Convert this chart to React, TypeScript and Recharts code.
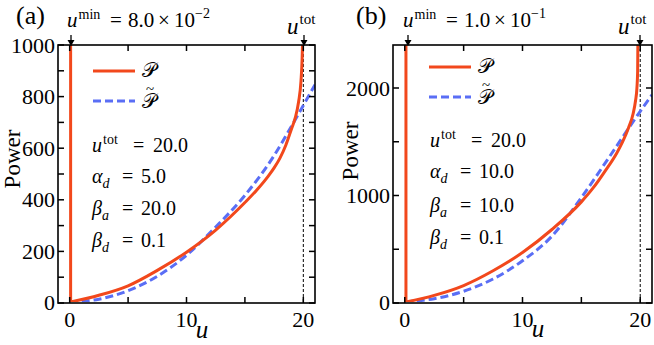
import React from "react";
import { LineChart, Line, XAxis, YAxis, ReferenceLine } from "recharts";

const RED = "#f2481c";
const BLUE = "#5a6ef5";
const SERIF = "'Liberation Serif', 'DejaVu Serif', serif";
const SCRIPT_P = "\u{1D4AB}";

// shared x axis
const xTicks = [0, 5, 10, 15, 20];
const xLabels = [0, 10, 20];
const xDomain = [-1, 21];
const uTot = 20;

// panel (a)
const aUMin = 0.08;
const aRedU = [0.08, 2.5, 5, 7.5, 10, 12.5, 15, 16, 17, 17.5, 18, 18.5, 19, 19.3, 19.6, 19.8, 19.9, 19.93];
const aRedP = [0, 26, 63, 123, 194, 280, 387, 435, 490, 522, 560, 610, 675, 715, 780, 860, 950, 1000];
const aTildeU = [0, 2.5, 5, 7.5, 10, 12.5, 15, 17.5, 19, 20, 21];
const aTildeP = [0, 11, 44, 100, 182, 292, 415, 570, 685, 765, 845];
const aYTicks = [0, 100, 200, 300, 400, 500, 600, 700, 800, 900, 1000];
const aYLabels = [0, 200, 400, 600, 800, 1000];

// panel (b)
const bUMin = 0.1;
const bRedU = [0.1, 2.5, 5, 7.5, 10, 12.5, 15, 16, 17, 18, 18.5, 19, 19.4, 19.6, 19.72, 19.78, 19.8];
const bRedP = [0, 62, 154, 292, 462, 677, 935, 1065, 1220, 1390, 1495, 1625, 1760, 1880, 2000, 2150, 2400];
const bTildeU = [0, 2.5, 5, 7.5, 10, 12.5, 15, 17.5, 19, 20, 21];
const bTildeP = [0, 31, 100, 215, 385, 615, 975, 1375, 1620, 1780, 1935];
const bYTicks = [0, 500, 1000, 1500, 2000];
const bYLabels = [0, 1000, 2000];

const zip = (us: number[], ps: number[]) => us.map((u, i) => ({ u, p: ps[i] }));

// layout of the two plot boxes (page pixels)
const TOP = 45;
const BOTTOM = 303;
const A_BOX = { left: 58, right: 315 };
const B_BOX = { left: 393, right: 652 };

const labelMaker = (side: string, labels: number[]) => (props: any) => {
  const { x, y, payload } = props;
  const v = payload.value;
  if (!labels.includes(v)) return <g />;
  if (side === "bottom")
    return (
      <text x={x} y={y + 25} textAnchor="middle" fontFamily={SERIF} fontSize={22} fill="#000">
        {v}
      </text>
    );
  return (
    <text x={x - 3} y={y + 8} textAnchor="end" fontFamily={SERIF} fontSize={22} fill="#000">
      {v}
    </text>
  );
};

const Panel = ({ width, yAxisWidth, right, yMax, yTicks, yLabels, uMin, red, tilde }: any) => (
  <LineChart width={width} height={345} margin={{ top: TOP, right, bottom: 345 - BOTTOM, left: 0 }}>
    <XAxis
      dataKey="u"
      type="number"
      domain={xDomain}
      ticks={xTicks}
      interval={0}
      allowDataOverflow
      height={1}
      tickSize={0}
      tickMargin={0}
      tickLine={false}
      axisLine={false}
      tick={labelMaker("bottom", xLabels)}
    />
    <YAxis
      type="number"
      domain={[0, yMax]}
      ticks={yTicks}
      interval={0}
      allowDataOverflow
      width={yAxisWidth}
      tickSize={0}
      tickMargin={0}
      tickLine={false}
      axisLine={false}
      tick={labelMaker("left", yLabels)}
    />
    <ReferenceLine x={uTot} stroke="#000" strokeWidth={1} strokeDasharray="3 2" />
    <Line
      data={tilde}
      dataKey="p"
      type="monotone"
      stroke={BLUE}
      strokeWidth={3}
      strokeDasharray="8 4"
      dot={false}
      activeDot={false}
      isAnimationActive={false}
    />
    <Line
      data={[{ u: uMin, p: yMax }, { u: uMin, p: 0 }]}
      dataKey="p"
      type="linear"
      stroke={RED}
      strokeWidth={3}
      dot={false}
      activeDot={false}
      isAnimationActive={false}
    />
    <Line
      data={red}
      dataKey="p"
      type="monotone"
      stroke={RED}
      strokeWidth={3}
      dot={false}
      activeDot={false}
      isAnimationActive={false}
    />
  </LineChart>
);

// box and inward ticks on all four sides
const Frame = ({ left, right, yMax, yTicks }: any) => {
  const sx = (v: number) => left + ((v - xDomain[0]) / (xDomain[1] - xDomain[0])) * (right - left);
  const sy = (v: number) => BOTTOM - (v / yMax) * (BOTTOM - TOP);
  const len = 6;
  const w = 1.5;
  return (
    <g>
      <rect x={left} y={TOP} width={right - left} height={BOTTOM - TOP} fill="none" stroke="#000" strokeWidth={1.6} />
      {xTicks.map((t) => (
        <g key={`x${t}`}>
          <rect x={sx(t) - w / 2} y={BOTTOM - len} width={w} height={len} fill="#000" />
          <rect x={sx(t) - w / 2} y={TOP} width={w} height={len} fill="#000" />
        </g>
      ))}
      {yTicks.map((t: number) => (
        <g key={`y${t}`}>
          <rect x={left} y={sy(t) - w / 2} width={len} height={w} fill="#000" />
          <rect x={right - len} y={sy(t) - w / 2} width={len} height={w} fill="#000" />
        </g>
      ))}
    </g>
  );
};

const Arrow = ({ x }: { x: number }) => (
  <g>
    <line x1={x} y1={35} x2={x} y2={41} stroke="#000" strokeWidth={1.3} />
    <path d={`M${x - 3.5},40 L${x + 3.5},40 L${x},46 Z`} fill="#000" />
  </g>
);

const Annot = ({ x0, px, label, umin, exp, umX, totX, params, ys, legX, legY }: any) => (
  <g fontFamily={SERIF} fill="#000">
    <text x={x0} y={24} fontSize={26}>{label}</text>
    <text y={27} fontSize={21}>
      <tspan x={umX} fontStyle="italic">u</tspan>
      <tspan dx={1} dy={-8} fontSize={14}>min</tspan>
      <tspan x={umX + 43} dy={8}>=</tspan>
      <tspan x={umX + 61}>{umin}</tspan>
      <tspan x={umX + 91}>×</tspan>
      <tspan x={umX + 107}>10</tspan>
      <tspan x={umX + 128} dy={-9} fontSize={14}>{exp}</tspan>
    </text>
    <text y={34} fontSize={23}>
      <tspan x={totX} fontStyle="italic">u</tspan>
      <tspan dx={1} dy={-10} fontSize={15}>tot</tspan>
    </text>
    {/* legend */}
    <line x1={legX} y1={legY} x2={legX + 42} y2={legY} stroke={RED} strokeWidth={3} />
    <text x={legX + 49} y={legY + 6} fontSize={20}>{SCRIPT_P}</text>
    <line x1={legX} y1={legY + 30} x2={legX + 42} y2={legY + 30} stroke={BLUE} strokeWidth={3} strokeDasharray="8 4" />
    <text x={legX + 49} y={legY + 37} fontSize={20}>
      {SCRIPT_P}
      <tspan x={legX + 53} dy={-14} fontSize={15}>~</tspan>
    </text>
    {/* parameters */}
    <text y={ys[0]} fontSize={20}>
      <tspan x={px} fontStyle="italic">u</tspan>
      <tspan dx={1} dy={-8} fontSize={14}>tot</tspan>
      <tspan x={px + 41} dy={8}>=</tspan>
      <tspan x={px + 61}>{params[0]}</tspan>
    </text>
    <text y={ys[1]} fontSize={20}>
      <tspan x={px} fontStyle="italic">α</tspan>
      <tspan dy={5} fontSize={14} fontStyle="italic">d</tspan>
      <tspan x={px + 30} dy={-5}>=</tspan>
      <tspan x={px + 49}>{params[1]}</tspan>
    </text>
    <text y={ys[2]} fontSize={20}>
      <tspan x={px} fontStyle="italic">β</tspan>
      <tspan dy={5} fontSize={14} fontStyle="italic">a</tspan>
      <tspan x={px + 30} dy={-5}>=</tspan>
      <tspan x={px + 49}>{params[2]}</tspan>
    </text>
    <text y={ys[3]} fontSize={20}>
      <tspan x={px} fontStyle="italic">β</tspan>
      <tspan dy={5} fontSize={14} fontStyle="italic">d</tspan>
      <tspan x={px + 30} dy={-5}>=</tspan>
      <tspan x={px + 49}>{params[3]}</tspan>
    </text>
  </g>
);

export default function App() {
  return (
    <div style={{ position: "absolute", left: 0, top: 0, width: 654, height: 345, background: "#fff" }}>
      <div style={{ position: "absolute", left: 0, top: 0 }}>
        <Panel
          width={330}
          yAxisWidth={A_BOX.left}
          right={330 - A_BOX.right}
          yMax={1000}
          yTicks={aYTicks}
          yLabels={aYLabels}
          uMin={aUMin}
          red={zip(aRedU, aRedP)}
          tilde={zip(aTildeU, aTildeP)}
        />
      </div>
      <div style={{ position: "absolute", left: 330, top: 0 }}>
        <Panel
          width={324}
          yAxisWidth={B_BOX.left - 330}
          right={654 - B_BOX.right}
          yMax={2400}
          yTicks={bYTicks}
          yLabels={bYLabels}
          uMin={bUMin}
          red={zip(bRedU, bRedP)}
          tilde={zip(bTildeU, bTildeP)}
        />
      </div>
      <svg width={654} height={345} style={{ position: "absolute", left: 0, top: 0, pointerEvents: "none" }}>
        <Frame left={A_BOX.left} right={A_BOX.right} yMax={1000} yTicks={aYTicks} />
        <Frame left={B_BOX.left} right={B_BOX.right} yMax={2400} yTicks={bYTicks} />
        <Annot
          x0={16}
          px={92}
          label="(a)"
          umin="8.0"
          exp="−2"
          umX={67}
          totX={287}
          params={["20.0", "5.0", "20.0", "0.1"]}
          ys={[152, 183, 215, 247]}
          legX={93}
          legY={71}
        />
        <Annot
          x0={356}
          px={430}
          label="(b)"
          umin="1.0"
          exp="−1"
          umX={403}
          totX={618}
          params={["20.0", "10.0", "10.0", "0.1"]}
          ys={[147, 178, 212, 244]}
          legX={429}
          legY={67}
        />
        <Arrow x={71} />
        <Arrow x={304} />
        <Arrow x={408} />
        <Arrow x={640} />
        <g fontFamily={SERIF} fill="#000">
          <text x={20} y={159} fontSize={23} textAnchor="middle" transform="rotate(-90 20 159)">Power</text>
          <text x={358} y={151} fontSize={23} textAnchor="middle" transform="rotate(-90 358 151)">Power</text>
          <text x={202} y={338} fontSize={25} fontStyle="italic" textAnchor="middle">u</text>
          <text x={538} y={337} fontSize={25} fontStyle="italic" textAnchor="middle">u</text>
        </g>
      </svg>
    </div>
  );
}
